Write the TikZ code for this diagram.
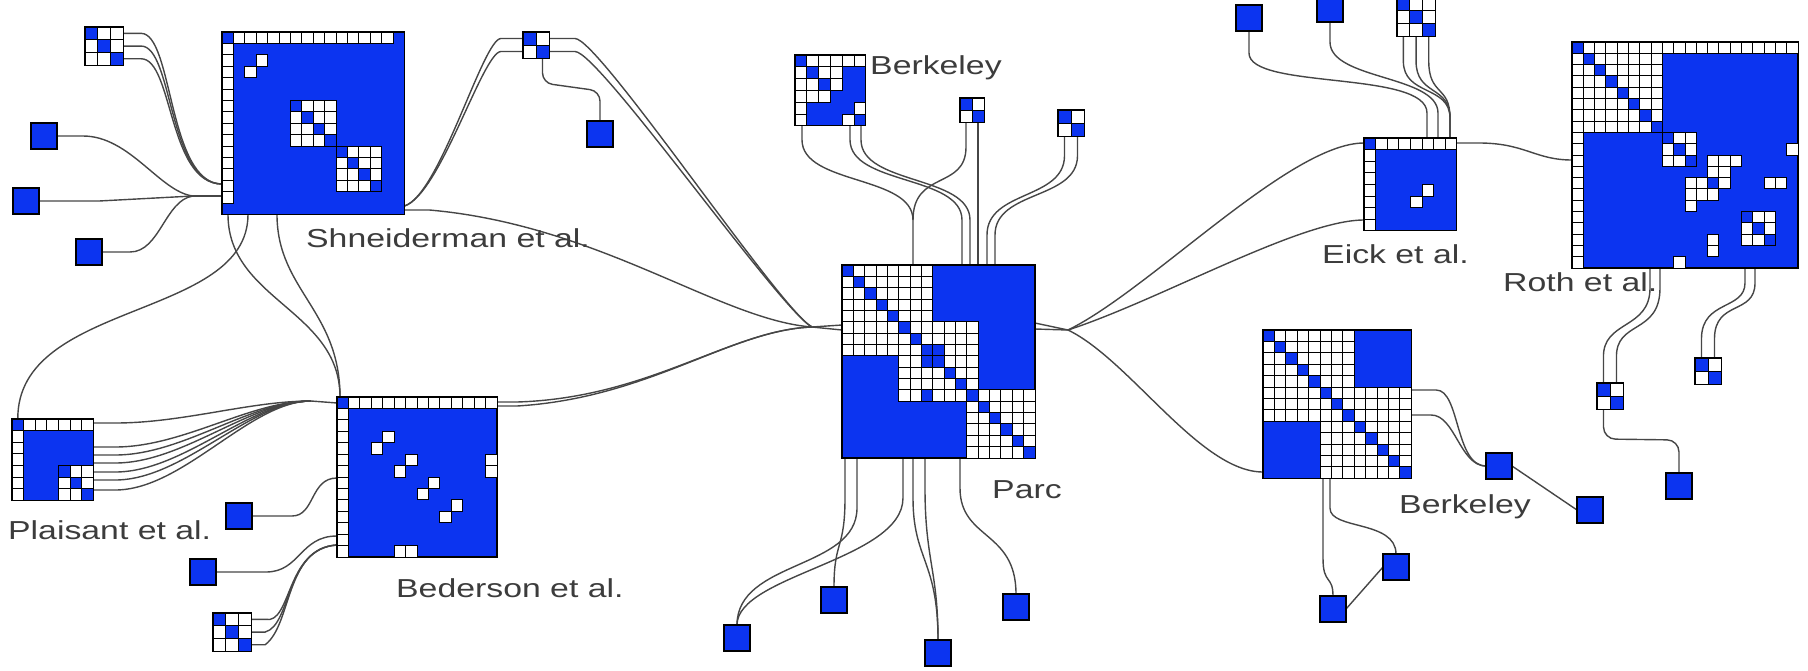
\documentclass[tikz,border=0pt]{standalone}
\usepackage{fontspec}
\usetikzlibrary{calc, backgrounds}
\newfontfamily\lblfont[FakeStretch=1.3]{Liberation Sans}
\definecolor{cellblue}{RGB}{12, 52, 240}
\definecolor{linkgray}{RGB}{70, 70, 70}
\definecolor{labelgray}{RGB}{60, 60, 60}

% matrix node: name, x, y, size n, cell width
\newcommand{\mtx}[5]{%
  \def\mox{#2}\def\moy{#3}\def\mcs{#5}%
  \pgfmathsetmacro\msz{#4*#5}%
  \node[mat, minimum size=\msz pt, anchor=north west] (#1) at (#2,#3) {};}
% white cells of a block: r0, r1, c0, c1
\newcommand{\wblock}[4]{%
  \foreach \r in {#1,...,#2}{\foreach \c in {#3,...,#4}{%
    \draw[wcell] ({\mox+\c*\mcs},{\moy+\r*\mcs}) rectangle ++(\mcs,\mcs);}}}
\newcommand{\wcells}[1]{%
  \foreach \r/\c in {#1}{\draw[wcell] ({\mox+\c*\mcs},{\moy+\r*\mcs}) rectangle ++(\mcs,\mcs);}}
\newcommand{\bcells}[1]{%
  \foreach \r/\c in {#1}{\draw[bcell] ({\mox+\c*\mcs},{\moy+\r*\mcs}) rectangle ++(\mcs,\mcs);}}
\newcommand{\bdiag}[2]{%
  \foreach \k in {#1,...,#2}{\draw[bcell] ({\mox+\k*\mcs},{\moy+\k*\mcs}) rectangle ++(\mcs,\mcs);}}

\begin{document}
\begin{tikzpicture}[
    x=1pt, y=-1pt,
    mat/.style={draw=black, fill=cellblue, line width=1.2pt, inner sep=0pt, outer sep=0pt},
    leaf/.style={mat, minimum size=26pt},
    wcell/.style={draw=black, fill=white, line width=0.9pt},
    bcell/.style={draw=black, fill=cellblue, line width=0.9pt},
    link/.style={draw=linkgray, line width=1.4pt},
    lbl/.style={font=\lblfont\fontsize{26}{28}\selectfont, text=labelgray, anchor=west, inner sep=0pt}
]
\useasboundingbox (0,0) rectangle (1808,670);

    % Shneiderman et al.
    \mtx{shn}{222}{32}{16}{11.4}
    \wblock{0}{0}{1}{14}
    \wblock{1}{14}{0}{0}
    \wcells{2/3, 3/2}
    \wblock{6}{9}{6}{9}
    \wblock{10}{13}{10}{13}
    \bdiag{6}{13}

    \mtx{tlm}{85}{27}{3}{12.7}
    \wblock{0}{2}{0}{2}
    \bdiag{0}{2}

    \mtx{srm}{523}{32}{2}{13}
    \wblock{0}{1}{0}{1}
    \bdiag{0}{1}

    \node[leaf] (tl1) at (44,136) {};
    \node[leaf] (tl2) at (26,201) {};
    \node[leaf] (tl3) at (89,252) {};
    \node[leaf] (sr1) at (600,134) {};

    % Plaisant et al.
    \mtx{plm}{12}{419}{7}{11.6}
    \wblock{0}{0}{1}{6}
    \wblock{1}{6}{0}{0}
    \wblock{4}{6}{4}{6}
    \bdiag{4}{6}

    % Bederson et al.
    \mtx{bdm}{337}{397}{14}{11.43}
    \wblock{0}{0}{1}{13}
    \wblock{1}{13}{0}{0}
    \wcells{3/4, 4/3, 5/6, 6/5, 7/8, 8/7, 9/10, 10/9, 5/13, 6/13, 13/5, 13/6}

    \mtx{bsm}{213}{613}{3}{12.7}
    \wblock{0}{2}{0}{2}
    \bdiag{0}{2}

    \node[leaf] (bd1) at (239,516) {};
    \node[leaf] (bd2) at (203,572) {};

    % Parc
    \mtx{pcm}{842}{265}{17}{11.35}
    \wblock{0}{7}{0}{7}
    \wblock{5}{11}{5}{11}
    \wblock{11}{16}{11}{16}
    \bdiag{0}{16}
    \bcells{7/8, 8/7, 11/7}

    \node[leaf] (pc1) at (737,638) {};
    \node[leaf] (pc2) at (834,600) {};
    \node[leaf] (pc3) at (938,653) {};
    \node[leaf] (pc4) at (1016,607) {};

    % Berkeley (top)
    \mtx{btm}{795}{55}{6}{11.8}
    \wblock{0}{0}{1}{5}
    \wblock{1}{5}{0}{0}
    \wcells{1/2, 1/3, 2/1, 2/3, 3/1, 3/2, 4/5, 5/4}

    \mtx{bam}{960}{98}{2}{12}
    \wblock{0}{1}{0}{1}
    \bdiag{0}{1}

    \mtx{bbm}{1058}{110}{2}{13}
    \wblock{0}{1}{0}{1}
    \bdiag{0}{1}

    % Eick et al.
    \mtx{ekm}{1364}{138}{8}{11.6}
    \wblock{0}{0}{1}{7}
    \wblock{1}{7}{0}{0}
    \wcells{4/5, 5/4}

    \mtx{etm}{1397}{-2}{3}{12.7}
    \wblock{0}{2}{0}{2}
    \bdiag{0}{2}

    \node[leaf] (ek1) at (1249,18) {};
    \node[leaf] (ek2) at (1330,9) {};

    % Roth et al.
    \mtx{rtm}{1572}{42}{20}{11.3}
    \wblock{0}{0}{1}{19}
    \wblock{1}{19}{0}{0}
    \wblock{0}{7}{0}{7}
    \wblock{8}{10}{8}{10}
    \wblock{15}{17}{15}{17}
    \bdiag{0}{10}
    \bdiag{15}{17}
    \wcells{10/12, 10/13, 10/14, 11/12, 11/13, 12/10, 12/11, 12/13, 13/10, 13/11, 13/12, 14/10,
            12/17, 12/18, 9/19, 17/12, 18/12, 19/9}

    \mtx{ram}{1597}{383}{2}{13}
    \wblock{0}{1}{0}{1}
    \bdiag{0}{1}

    \mtx{rbm}{1695}{358}{2}{13}
    \wblock{0}{1}{0}{1}
    \bdiag{0}{1}

    \node[leaf] (rt1) at (1679,486) {};

    % Berkeley (right)
    \mtx{brm}{1263}{330}{13}{11.4}
    \wblock{0}{7}{0}{7}
    \wblock{5}{12}{5}{12}
    \bdiag{0}{12}

    \node[leaf] (br1) at (1499,466) {};
    \node[leaf] (br2) at (1590,510) {};
    \node[leaf] (br3) at (1396,567) {};
    \node[leaf] (br4) at (1333,609) {};

    % Hubs
    \coordinate (hubS) at (193,196);
    \coordinate (hubB) at (311,401);
    \coordinate (hubP) at (812,327);
    \coordinate (hubR) at (1068,330);

    % Links
    \begin{scope}[on background layer]
    \foreach \d in {6.35, 19.05, 31.75}
        \draw[link] ($(tlm.north east)+(0,\d)$) -- ++(18,0) .. controls ($(tlm.north east)+(50,\d)$) and (168,184) .. ($(shn.north west)+(0,152)$);
    \draw[link] (tl1.east) -- ++(26,0) .. controls (130,136) and (160,192) .. (hubS);
    \draw[link] (tl2.east) -- ++(60,0) -- (hubS);
    \draw[link] (tl3.east) -- ++(28,0) .. controls (160,252) and (165,200) .. (hubS);
    \draw[link] (hubS) -- ($(shn.north west)+(0,164)$);

    \draw[link] ($(shn.south west)+(6,0)$) .. controls (228,300) and (340,310) .. ($(bdm.north west)+(3,0)$);
    \draw[link] ($(shn.south west)+(26,0)$) .. controls (248,320) and (17,300) .. ($(plm.north west)+(5.8,0)$);
    \draw[link] ($(shn.south west)+(55,0)$) .. controls (277,290) and (340,310) .. ($(bdm.north west)+(3,0)$);

    \foreach \d in {6.5, 19.5} {
        \draw[link] ($(srm.north west)+(0,\d)$) -- ++(-22,0) .. controls ($(srm.north west)+(-40,\d)$) and (440,195) .. ($(shn.north east)+(0,174)$);
        \draw[link] ($(srm.north east)+(0,\d)$) -- ++(26,0) .. controls ($(srm.north east)+(50,\d)$) and (780,310) .. (hubP);
    }
    \draw[link, rounded corners=10pt] ($(srm.south west)+(19.5,0)$) -- ++(0,25) -- ($(sr1.north)+(0,-30)$) -- (sr1.north);

    \draw[link] ($(shn.north east)+(0,178)$) -- ++(25,0) .. controls (600,225) and (720,320) .. (hubP);
    \foreach \d in {5, 9}
        \draw[link] ($(bdm.north east)+(0,\d)$) -- ++(20,0) .. controls (650,398) and (730,330) .. (hubP);
    \draw[link] (hubP) -- ($(pcm.north west)+(0,60)$);
    \draw[link] (hubP) -- ($(pcm.north west)+(0,65)$);

    \foreach \d in {4, 28, 36, 44, 53, 61, 71}
        \draw[link] ($(plm.north east)+(0,\d)$) -- ++(22,0) .. controls ($(plm.north east)+(90,\d)$) and (250,401) .. (hubB);
    \draw[link] (hubB) -- ($(bdm.north west)+(0,6)$);

    \draw[link] (bd1.east) -- ++(40,0) .. controls (315,516) and (310,478) .. ($(bdm.north west)+(0,81)$);
    \draw[link] (bd2.east) -- ++(50,0) .. controls (300,572) and (300,536) .. ($(bdm.north west)+(0,139)$);
    \foreach \d in {6.35, 19.05, 31.75}
        \draw[link] ($(bsm.north east)+(0,\d)$) -- ++(14,0) .. controls (292,625) and (285,548) .. ($(bdm.north west)+(0,148)$);

    % Parc top
    \draw[link] ($(btm.south west)+(7,0)$) -- ++(0,14) .. controls (802,185) and (913,175) .. ($(pcm.north west)+(71,-45)$) -- ($(pcm.north west)+(71,0)$);
    \draw[link] ($(btm.south west)+(55,0)$) -- ++(0,14) .. controls (850,185) and (962,175) .. ($(pcm.north west)+(120,-45)$) -- ($(pcm.north west)+(120,0)$);
    \draw[link] ($(btm.south west)+(66,0)$) -- ++(0,14) .. controls (861,185) and (970,175) .. ($(pcm.north west)+(128,-45)$) -- ($(pcm.north west)+(128,0)$);
    \draw[link] ($(bam.south west)+(6,0)$) -- ++(0,25) .. controls (966,190) and (913,170) .. ($(pcm.north west)+(71,-45)$);
    \draw[link] ($(bam.south west)+(18,0)$) -- ($(pcm.north west)+(136,0)$);
    \draw[link] ($(bbm.south west)+(6.5,0)$) -- ++(0,20) .. controls (1064,200) and (987,190) .. ($(pcm.north west)+(145,-30)$) -- ($(pcm.north west)+(145,0)$);
    \draw[link] ($(bbm.south west)+(19.5,0)$) -- ++(0,20) .. controls (1077,200) and (995,190) .. ($(pcm.north west)+(153,-30)$) -- ($(pcm.north west)+(153,0)$);

    % Parc bottom
    \draw[link] ($(pcm.south west)+(3,0)$) -- ++(0,40) .. controls (845,550) and (834,540) .. (pc2.north);
    \draw[link] ($(pcm.south west)+(15,0)$) -- ++(0,50) .. controls (857,570) and (737,560) .. (pc1.north);
    \draw[link] ($(pcm.south west)+(61,0)$) -- ++(0,40) .. controls (903,560) and (737,575) .. (pc1.north);
    \draw[link] ($(pcm.south west)+(71,0)$) -- ++(0,40) .. controls (913,560) and (938,560) .. (pc3.north);
    \draw[link] ($(pcm.south west)+(83,0)$) -- ++(0,30) .. controls (925,560) and (938,570) .. (pc3.north);
    \draw[link] ($(pcm.south west)+(118,0)$) -- ++(0,30) .. controls (960,540) and (1016,530) .. (pc4.north);

    % Parc right
    \draw[link] ($(pcm.north east)+(0,58)$) -- (hubR);
    \draw[link] ($(pcm.north east)+(0,64)$) -- (hubR);
    \draw[link] (hubR) .. controls (1150,290) and (1290,143) .. ($(ekm.north west)+(0,5)$);
    \draw[link] (hubR) .. controls (1160,300) and (1300,220) .. ($(ekm.north west)+(0,82)$);
    \draw[link] (hubR) .. controls (1130,360) and (1200,472) .. ($(brm.north west)+(0,142)$);

    % Eick top and right
    \draw[link] (ek1.south) -- ++(0,22) .. controls (1249,90) and (1427,70) .. ($(ekm.north west)+(63,-25)$) -- ($(ekm.north west)+(63,0)$);
    \draw[link] (ek2.south) -- ++(0,20) .. controls (1330,80) and (1438,75) .. ($(ekm.north west)+(74,-25)$) -- ($(ekm.north west)+(74,0)$);
    \foreach \d in {6.35, 19.05, 31.75}
        \draw[link] ($(etm.south west)+(\d,0)$) -- ++(0,25) .. controls ($(etm.south west)+(\d,60)$) and (1450,85) .. ($(ekm.north west)+(86,-20)$) -- ($(ekm.north west)+(86,0)$);
    \draw[link] ($(ekm.north east)+(0,5)$) -- ++(22,0) .. controls (1525,143) and (1535,160) .. ($(rtm.north west)+(0,118)$);

    % Roth bottom
    \draw[link] ($(rtm.south west)+(78,0)$) -- ++(0,20) .. controls (1650,330) and (1602,320) .. ($(ram.north west)+(6.5,-25)$) -- ($(ram.north west)+(6.5,0)$);
    \draw[link] ($(rtm.south west)+(88,0)$) -- ++(0,20) .. controls (1660,335) and (1615,320) .. ($(ram.north west)+(19.5,-25)$) -- ($(ram.north west)+(19.5,0)$);
    \draw[link] ($(rtm.south west)+(173,0)$) -- ++(0,15) .. controls (1745,310) and (1702,300) .. ($(rbm.north west)+(6.5,-20)$) -- ($(rbm.north west)+(6.5,0)$);
    \draw[link] ($(rtm.south west)+(183,0)$) -- ++(0,15) .. controls (1755,315) and (1715,300) .. ($(rbm.north west)+(19.5,-20)$) -- ($(rbm.north west)+(19.5,0)$);
    \draw[link, rounded corners=12pt] ($(ram.south west)+(6.5,0)$) -- ++(0,30) -- ($(rt1.north)+(0,-33)$) -- (rt1.north);

    % Berkeley right
    \draw[link] ($(brm.north east)+(0,60)$) -- ++(25,0) .. controls (1460,390) and (1455,466) .. (br1.west);
    \draw[link] ($(brm.north east)+(0,85)$) -- ++(20,0) .. controls (1455,415) and (1460,466) .. (br1.west);
    \draw[link] (br1.east) -- (br2.west);
    \draw[link] ($(brm.south west)+(60,0)$) -- ++(0,80) .. controls (1323,585) and (1333,575) .. (br4.north);
    \draw[link] ($(brm.south west)+(67,0)$) -- ++(0,30) .. controls (1330,530) and (1396,520) .. (br3.north);
    \draw[link] (br3.west) -- (br4.east);
    \end{scope}

    % Labels
    \node[lbl] (lshn) at (306,238) {Shneiderman et al.};
    \node[lbl] (lbtm) at (870,68) {Berkeley};
    \node[lbl] (lpcm) at (992,490) {Parc};
    \node[lbl] (lekm) at (1322,254) {Eick et al.};
    \node[lbl] (lrtm) at (1503,282) {Roth et al.};
    \node[lbl] (lbrm) at (1399,507) {Berkeley};
    \node[lbl] (lplm) at (8,530) {Plaisant et al.};
    \node[lbl] (lbdm) at (396,588) {Bederson et al.};

\end{tikzpicture}
\end{document}
